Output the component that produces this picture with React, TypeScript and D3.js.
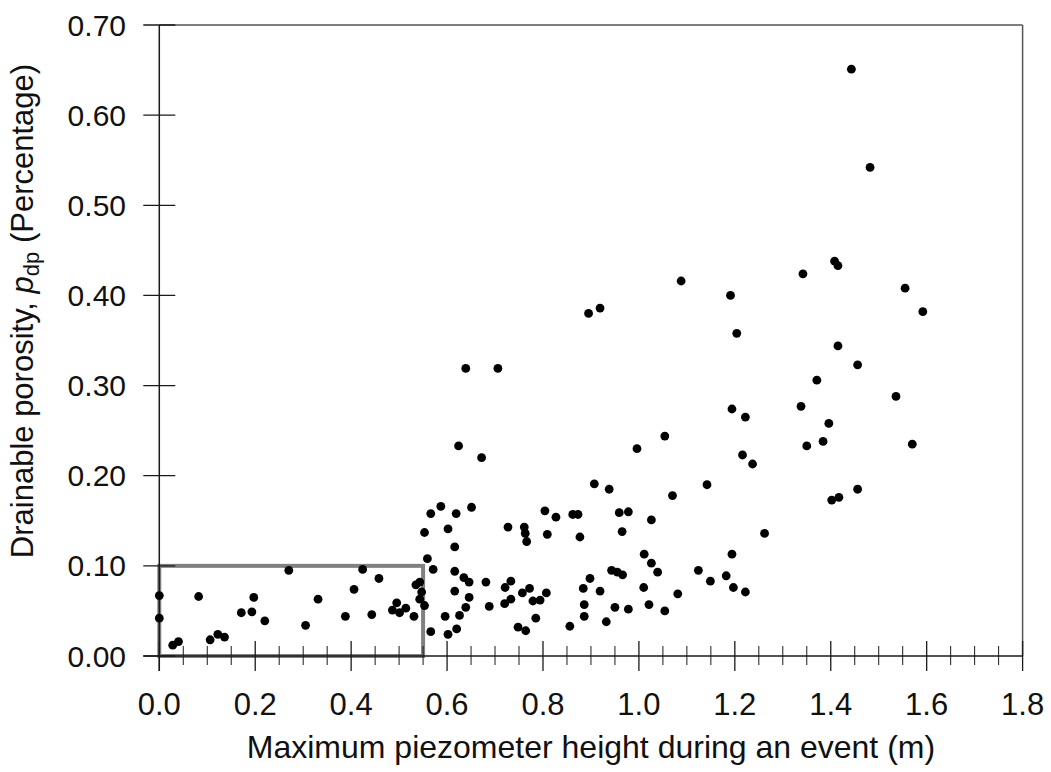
import React from "react";
import * as d3 from "d3";

// Maximum piezometer height during an event (m)
const heightM: number[] = [
  0.0, 0.0, 0.028, 0.04, 0.082, 0.106, 0.122, 0.136, 0.171, 0.193, 0.197, 0.22, 0.27, 0.305, 0.331,
  0.388, 0.406, 0.424, 0.443, 0.458, 0.486, 0.495, 0.501, 0.514, 0.531, 0.535, 0.543, 0.547, 0.543,
  0.553, 0.559, 0.571, 0.566,
  0.553, 0.566, 0.587, 0.619, 0.651, 0.602, 0.616, 0.616, 0.635, 0.646, 0.616, 0.646, 0.639, 0.626,
  0.596, 0.602, 0.62, 0.681, 0.688, 0.727, 0.761, 0.763, 0.766, 0.804, 0.827, 0.809, 0.862, 0.873,
  0.877, 0.721, 0.733, 0.72, 0.733, 0.757, 0.772, 0.779, 0.794, 0.807, 0.785, 0.748, 0.764, 0.856,
  0.884, 0.898, 0.886, 0.886, 0.919, 0.932, 0.943, 0.955, 0.966, 0.95, 0.978, 0.959, 0.978, 0.965,
  1.026, 1.011, 1.026, 1.039, 1.01, 1.021, 1.054, 1.081, 1.124, 1.149,
  0.624, 0.672, 0.639, 0.706, 0.895, 0.919, 1.088, 1.191, 1.204, 0.907, 0.938, 0.996, 1.054, 1.07,
  1.142, 1.194, 1.222, 1.216, 1.237, 1.262, 1.194, 1.182, 1.197, 1.222, 1.338, 1.35, 1.384, 1.396,
  1.371, 1.342, 1.408, 1.415, 1.415, 1.456, 1.402, 1.417, 1.456, 1.536, 1.57, 1.555, 1.592, 1.443,
  1.482,
];

// Drainable porosity p_dp (Percentage)
const porosity: number[] = [
  0.067, 0.042, 0.012, 0.016, 0.066, 0.018, 0.024, 0.021, 0.048, 0.049, 0.065, 0.039, 0.095, 0.034,
  0.063, 0.044, 0.074, 0.096, 0.046, 0.086, 0.051, 0.059, 0.048, 0.053, 0.044, 0.079, 0.082, 0.071,
  0.063, 0.056, 0.108, 0.096, 0.027,
  0.137, 0.158, 0.166, 0.158, 0.165, 0.141, 0.121, 0.094, 0.087, 0.082, 0.072, 0.065, 0.054, 0.045,
  0.044, 0.024, 0.03, 0.082, 0.055, 0.143, 0.143, 0.136, 0.127, 0.161, 0.154, 0.135, 0.157, 0.157,
  0.132, 0.076, 0.083, 0.058, 0.063, 0.07, 0.075, 0.061, 0.062, 0.07, 0.042, 0.032, 0.028, 0.033,
  0.075, 0.086, 0.057, 0.044, 0.072, 0.038, 0.095, 0.093, 0.09, 0.054, 0.052, 0.159, 0.16, 0.138,
  0.151, 0.113, 0.103, 0.093, 0.076, 0.057, 0.05, 0.069, 0.095, 0.083,
  0.233, 0.22, 0.319, 0.319, 0.38, 0.386, 0.416, 0.4, 0.358, 0.191, 0.185, 0.23, 0.244, 0.178,
  0.19, 0.274, 0.265, 0.223, 0.213, 0.136, 0.113, 0.089, 0.076, 0.071, 0.277, 0.233, 0.238, 0.258,
  0.306, 0.424, 0.438, 0.433, 0.344, 0.323, 0.173, 0.176, 0.185, 0.288, 0.235, 0.408, 0.382, 0.651,
  0.542,
];

const xTickValues: number[] = [0, 0.2, 0.4, 0.6, 0.8, 1.0, 1.2, 1.4, 1.6, 1.8];
const xTickLabels: string[] = ["0.0", "0.2", "0.4", "0.6", "0.8", "1.0", "1.2", "1.4", "1.6", "1.8"];
const yTickValues: number[] = [0, 0.1, 0.2, 0.3, 0.4, 0.5, 0.6, 0.7];
const yTickLabels: string[] = ["0.00", "0.10", "0.20", "0.30", "0.40", "0.50", "0.60", "0.70"];
const highlightX: number[] = [0, 0.55];
const highlightY: number[] = [0, 0.1];

const FONT = "'Liberation Sans', Arial, Helvetica, sans-serif";

export default function App() {
  const W = 1051;
  const H = 772;
  const x = d3.scaleLinear().domain([0, 1.8]).range([159.3, 1022.6]);
  const y = d3.scaleLinear().domain([0, 0.7]).range([656, 25]);

  const minorX = d3
    .range(0, 36)
    .map((i) => i * 0.05)
    .filter((v) => Math.abs(v / 0.2 - Math.round(v / 0.2)) > 1e-6);

  const axisColor = "#1a1a1a";
  const frameColor = "#555";

  return (
    <svg
      width={W}
      height={H}
      viewBox={`0 0 ${W} ${H}`}
      style={{ position: "absolute", left: 0, top: 0, background: "#fff" }}
    >
      <rect x={0} y={0} width={W} height={H} fill="#fff" />
      {/* frame top and right */}
      <line x1={x(0)} x2={x(1.8)} y1={y(0.7)} y2={y(0.7)} stroke={frameColor} strokeWidth={1.5} />
      <line x1={x(1.8)} x2={x(1.8)} y1={y(0.7)} y2={y(0)} stroke={frameColor} strokeWidth={1.5} />

      {/* highlight box */}
      <rect
        x={x(highlightX[0])}
        y={y(highlightY[1])}
        width={x(highlightX[1]) - x(highlightX[0])}
        height={y(highlightY[0]) - y(highlightY[1])}
        fill="none"
        stroke="#808080"
        strokeWidth={4}
      />

      {/* axes */}
      <line x1={x(0) - 16} x2={x(1.8)} y1={y(0)} y2={y(0)} stroke={axisColor} strokeWidth={1.5} />
      <line x1={x(0)} x2={x(0)} y1={y(0.7)} y2={y(0) + 15} stroke={axisColor} strokeWidth={1.5} />

      {/* x ticks */}
      {xTickValues.map((v, i) => (
        <g key={"xt" + i}>
          <line x1={x(v)} x2={x(v)} y1={y(0) - 15} y2={y(0) + 15} stroke={axisColor} strokeWidth={1.3} />
          <text
            x={x(v)}
            y={715}
            textAnchor="middle"
            fontFamily={FONT}
            fontSize={31}
            fill="#111"
          >
            {xTickLabels[i]}
          </text>
        </g>
      ))}
      {minorX.map((v, i) => (
        <line
          key={"xm" + i}
          x1={x(v)}
          x2={x(v)}
          y1={y(0) - 10}
          y2={y(0) + 9}
          stroke={axisColor}
          strokeWidth={1}
        />
      ))}

      {/* y ticks */}
      {yTickValues.map((v, i) => (
        <g key={"yt" + i}>
          <line x1={x(0) - 16} x2={x(0) + 16} y1={y(v)} y2={y(v)} stroke={axisColor} strokeWidth={1.3} />
          <text
            x={126}
            y={y(v) + 10.5}
            textAnchor="end"
            fontFamily={FONT}
            fontSize={30}
            fill="#111"
          >
            {yTickLabels[i]}
          </text>
        </g>
      ))}

      {/* points */}
      {heightM.map((h, i) => (
        <circle key={"p" + i} cx={x(h)} cy={y(porosity[i])} r={4.4} fill="#000" />
      ))}

      {/* axis titles */}
      <text
        x={(x(0) + x(1.8)) / 2}
        y={758}
        textAnchor="middle"
        fontFamily={FONT}
        fontSize={32}
        fill="#111"
      >
        Maximum piezometer height during an event (m)
      </text>
      <text
        transform={`translate(33, ${311}) rotate(-90)`}
        textAnchor="middle"
        fontFamily={FONT}
        fontSize={31}
        fill="#111"
      >
        Drainable porosity,{" "}
        <tspan fontStyle="italic">p</tspan>
        <tspan fontSize={22} dy={6}>dp</tspan>
        <tspan dy={-6}> (Percentage)</tspan>
      </text>
    </svg>
  );
}
